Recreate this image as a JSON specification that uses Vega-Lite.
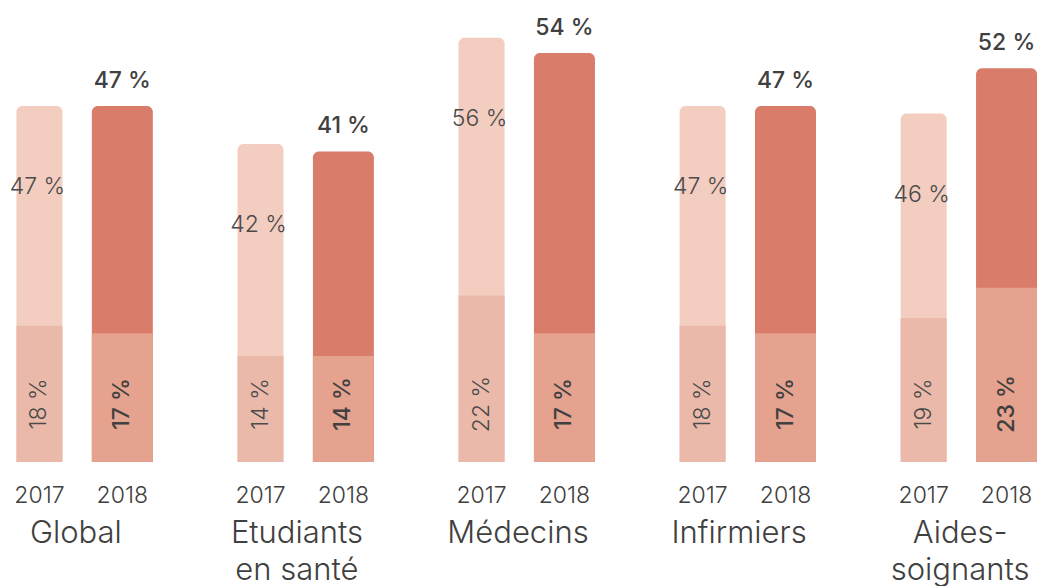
{
  "$schema": "https://vega.github.io/schema/vega-lite/v6.json",
  "width": 1037,
  "height": 462,
  "autosize": {"type": "none"},
  "padding": {"left": 0, "right": 0, "top": 0, "bottom": 124},
  "background": "white",
  "config": {"view": {"stroke": null}, "font": "Inter"},
  "data": {
    "values": [
      {"cat": "Global", "year": "2017", "total": 47, "base": 18},
      {"cat": "Global", "year": "2018", "total": 47, "base": 17},
      {"cat": "Etudiants en santé", "year": "2017", "total": 42, "base": 14},
      {"cat": "Etudiants en santé", "year": "2018", "total": 41, "base": 14},
      {"cat": "Médecins", "year": "2017", "total": 56, "base": 22},
      {"cat": "Médecins", "year": "2018", "total": 54, "base": 17},
      {"cat": "Infirmiers", "year": "2017", "total": 47, "base": 18},
      {"cat": "Infirmiers", "year": "2018", "total": 47, "base": 17},
      {"cat": "Aides-soignants", "year": "2017", "total": 46, "base": 19},
      {"cat": "Aides-soignants", "year": "2018", "total": 52, "base": 23}
    ]
  },
  "transform": [
    {"calculate": "datum.total + ' %'", "as": "totalLabel"},
    {"calculate": "datum.base + ' %'", "as": "baseLabel"}
  ],
  "encoding": {
    "x": {
      "field": "cat",
      "type": "nominal",
      "sort": null,
      "scale": {"range": [-2, 1048], "paddingInner": 0.25, "paddingOuter": 0},
      "axis": {
        "title": null,
        "domain": false,
        "ticks": false,
        "labelAngle": 0,
        "labelFontSize": 31,
        "labelFontWeight": 300,
        "labelColor": "#404040",
        "labelFont": "Inter",
        "labelPadding": 56,
        "labelLineHeight": 37,
        "labelOffset": -5,
        "labelExpr": "datum.label == 'Etudiants en santé' ? ['Etudiants', 'en santé'] : datum.label == 'Aides-soignants' ? ['Aides-', 'soignants'] : datum.label"
      }
    },
    "xOffset": {
      "field": "year",
      "type": "nominal",
      "scale": {"paddingInner": 0, "paddingOuter": 0}
    }
  },
  "layer": [
    {
      "mark": {"type": "bar", "cornerRadiusTopLeft": 6, "cornerRadiusTopRight": 6},
      "encoding": {
        "y": {"field": "total", "type": "quantitative", "scale": {"domain": [0, 61], "nice": false}, "axis": null},
        "size": {"field": "year", "type": "ordinal", "scale": {"domain": ["2017", "2018"], "range": [46, 61]}, "legend": null},
        "color": {"condition": {"test": "datum.year == '2017'", "value": "#f2cdc0"}, "value": "#d97c6a"}
      }
    },
    {
      "mark": {"type": "bar"},
      "encoding": {
        "y": {"field": "base", "type": "quantitative"},
        "size": {"field": "year", "type": "ordinal", "legend": null},
        "color": {"condition": {"test": "datum.year == '2017'", "value": "#ebb9a9"}, "value": "#e4a28f"}
      }
    },
    {
      "transform": [{"filter": "datum.year == '2017'"}],
      "mark": {"type": "text", "fontSize": 23, "fontWeight": 300, "color": "#4a4a4a", "baseline": "alphabetic", "dy": 88, "dx": -2, "align": "center"},
      "encoding": {
        "y": {"field": "total", "type": "quantitative"},
        "text": {"field": "totalLabel"}
      }
    },
    {
      "transform": [{"filter": "datum.year == '2018'"}],
      "mark": {"type": "text", "fontSize": 23, "fontWeight": 500, "color": "#404040", "baseline": "alphabetic", "dy": -18, "align": "center"},
      "encoding": {
        "y": {"field": "total", "type": "quantitative"},
        "text": {"field": "totalLabel"}
      }
    },
    {
      "transform": [{"filter": "datum.year == '2017'"}],
      "mark": {"type": "text", "fontSize": 23, "fontWeight": 300, "color": "#4a4a4a", "angle": 270, "baseline": "middle", "align": "center", "dx": 58},
      "encoding": {
        "y": {"datum": 0},
        "text": {"field": "baseLabel"}
      }
    },
    {
      "transform": [{"filter": "datum.year == '2018'"}],
      "mark": {"type": "text", "fontSize": 23, "fontWeight": 500, "color": "#404040", "angle": 270, "baseline": "middle", "align": "center", "dx": 58},
      "encoding": {
        "y": {"datum": 0},
        "text": {"field": "baseLabel"}
      }
    },
    {
      "mark": {"type": "text", "fontSize": 23, "fontWeight": 300, "color": "#404040", "baseline": "alphabetic", "dy": 41, "align": "center"},
      "encoding": {
        "y": {"datum": 0},
        "text": {"field": "year"}
      }
    }
  ]
}
